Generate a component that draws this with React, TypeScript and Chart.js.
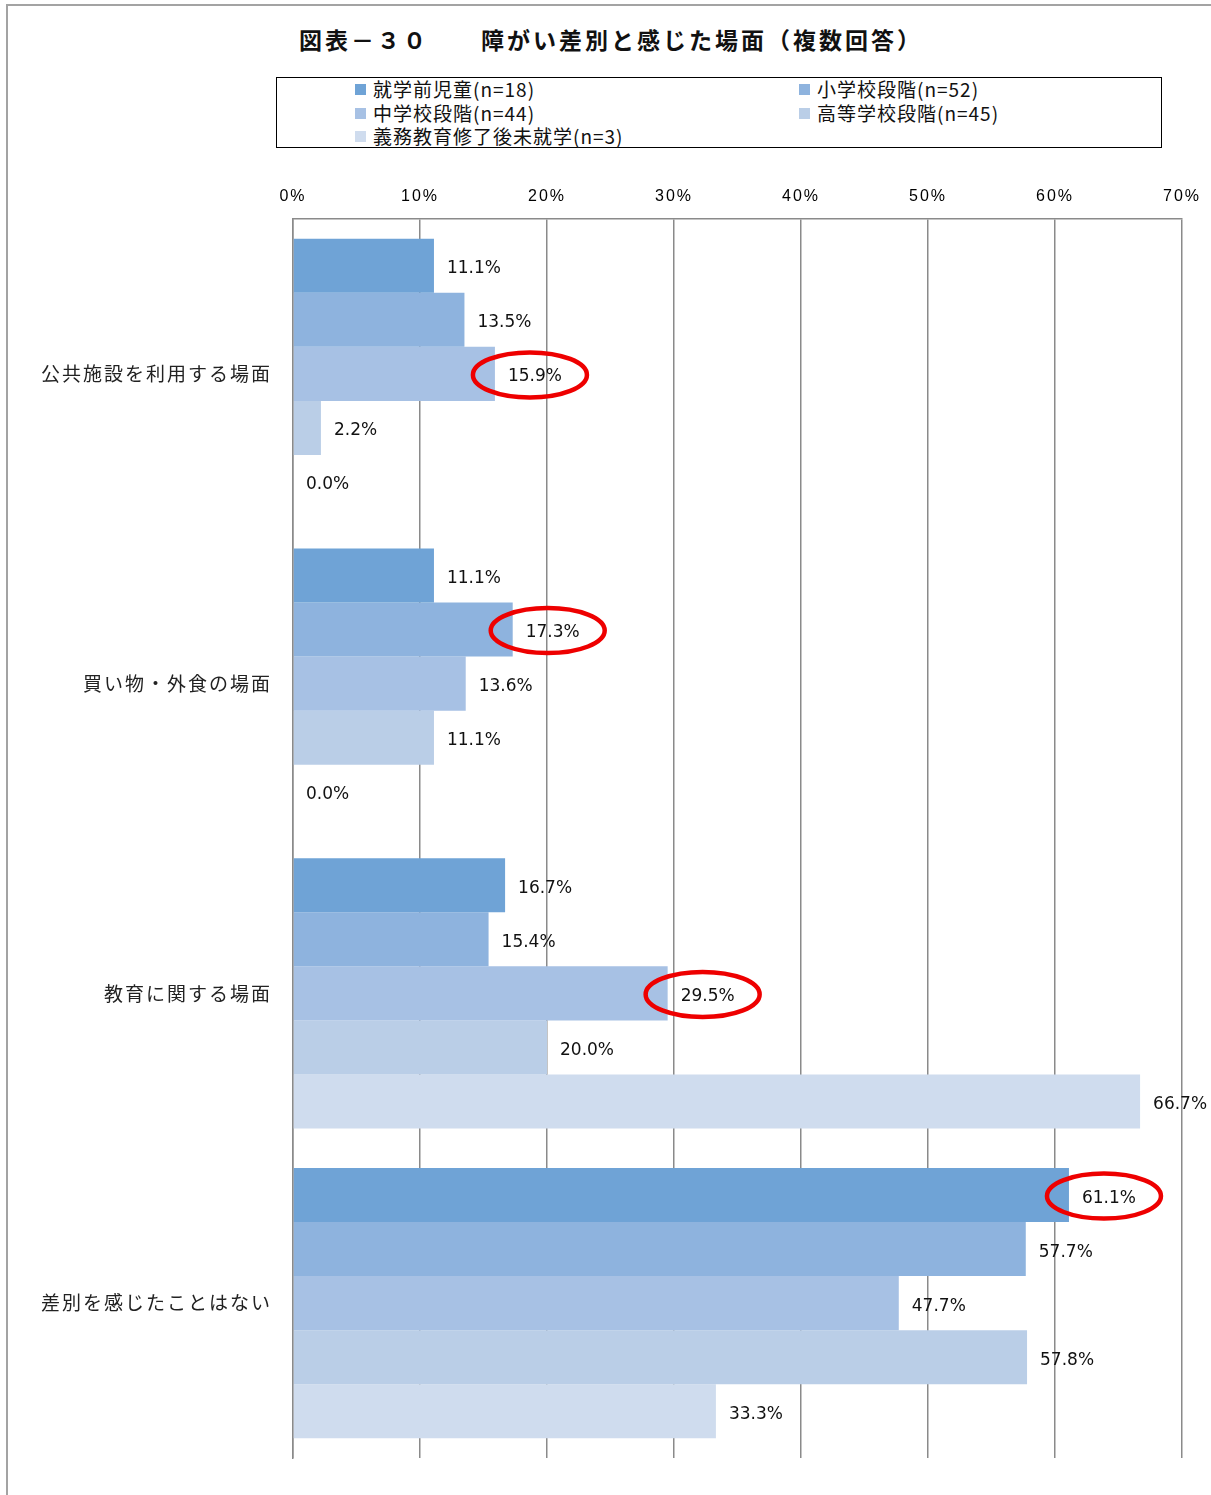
import React, { useEffect, useRef } from "react";
import { Chart, registerables } from "chart.js";

Chart.register(...registerables);

const title = "図表－３０　　障がい差別と感じた場面（複数回答）";
const categories = ["公共施設を利用する場面", "買い物・外食の場面", "教育に関する場面", "差別を感じたことはない"];
const seriesNames = ["就学前児童(n=18)", "小学校段階(n=52)", "中学校段階(n=44)", "高等学校段階(n=45)", "義務教育修了後未就学(n=3)"];
const preschool = [11.1, 11.1, 16.7, 61.1];
const elementary = [13.5, 17.3, 15.4, 57.7];
const juniorHigh = [15.9, 13.6, 29.5, 47.7];
const highSchool = [2.2, 11.1, 20.0, 57.8];
const postCompulsory = [0.0, 0.0, 66.7, 33.3];
const seriesValues = [preschool, elementary, juniorHigh, highSchool, postCompulsory];
const seriesColors = ["#6FA3D6", "#8EB3DE", "#A7C1E4", "#BACEE7", "#CFDCEE"];
const xTicks = [0, 10, 20, 30, 40, 50, 60, 70];
// circled labels: [series index, category index]
const highlights = [
  [2, 0],
  [1, 1],
  [2, 2],
  [0, 3],
];

const LABEL_FONT = '17px "DejaVu Sans"';
const LABEL_OFFSET = 13;

const spacingPlugin = {
  id: "spacing",
  beforeDraw(chart: any) {
    chart.ctx.letterSpacing = "2px";
  },
  beforeDatasetsDraw(chart: any) {
    chart.ctx.letterSpacing = "0px";
  },
};

const valueLabelPlugin = {
  id: "valueLabels",
  afterDatasetsDraw(chart: any) {
    const ctx = chart.ctx;
    ctx.save();
    ctx.letterSpacing = "0px";
    ctx.font = LABEL_FONT;
    ctx.fillStyle = "#111";
    ctx.textAlign = "left";
    ctx.textBaseline = "middle";
    chart.data.datasets.forEach((ds: any, di: number) => {
      const meta = chart.getDatasetMeta(di);
      meta.data.forEach((bar: any, i: number) => {
        const v = ds.data[i];
        ctx.fillText(v.toFixed(1) + "%", bar.x + LABEL_OFFSET, bar.y + 3);
      });
    });
    // red ellipses
    ctx.strokeStyle = "#EE0000";
    ctx.lineWidth = 4.5;
    highlights.forEach(([di, ci]) => {
      const bar: any = chart.getDatasetMeta(di).data[ci];
      const v = chart.data.datasets[di].data[ci];
      const text = v.toFixed(1) + "%";
      const w = ctx.measureText(text).width;
      const cx = bar.x + LABEL_OFFSET + w / 2 - 5;
      const cy = bar.y + 1;
      ctx.beginPath();
      ctx.ellipse(cx, cy, 57, 22.5, 0, 0, Math.PI * 2);
      ctx.stroke();
    });
    ctx.restore();
  },
};

export default function App() {
  const canvasRef = useRef<HTMLCanvasElement | null>(null);

  useEffect(() => {
    const canvas = canvasRef.current;
    if (!canvas) return;
    const chart = new Chart(canvas, {
      type: "bar",
      data: {
        labels: categories,
        datasets: seriesNames.map((name, i) => ({
          label: name,
          data: seriesValues[i],
          backgroundColor: seriesColors[i],
          borderWidth: 0,
          categoryPercentage: 0.872,
          barPercentage: 1.0,
        })),
      },
      options: {
        indexAxis: "y",
        responsive: false,
        animation: false,
        devicePixelRatio: 1,
        layout: { padding: { left: 0, right: 28, top: 0, bottom: 38 } },
        plugins: {
          legend: { display: false },
          tooltip: { enabled: false },
          title: { display: false },
        },
        scales: {
          x: {
            position: "top",
            min: 0,
            max: 70,
            afterBuildTicks: (s: any) => {
              s.ticks = xTicks.map((v) => ({ value: v }));
            },
            afterFit: (s: any) => {
              s.height = 58;
            },
            ticks: {
              callback: (v: any) => v + "%",
              font: { family: "Liberation Sans", size: 16 },
              color: "#000",
              padding: 13,
            },
            grid: { color: "#8a8a8a", lineWidth: 1.5, drawTicks: false },
            border: { display: true, color: "#8a8a8a", width: 1.5 },
          },
          y: {
            afterFit: (s: any) => {
              s.width = 293;
            },
            ticks: {
              font: { family: "Noto Sans CJK JP", size: 19 },
              color: "#222",
              padding: 21,
            },
            grid: { display: false, drawTicks: false },
            border: { display: true, color: "#8a8a8a", width: 1.5 },
          },
        },
      },
      plugins: [spacingPlugin, valueLabelPlugin],
    } as any);
    return () => chart.destroy();
  }, []);

  const legendCols = [79, 523];
  const legendRows = [11, 35, 58];

  return (
    <div style={{ position: "absolute", left: 0, top: 0, width: 1211, height: 1495, background: "#fff", overflow: "hidden" }}>
      <div
        style={{
          position: "absolute",
          left: 6,
          top: 4,
          width: 1210,
          height: 1500,
          borderLeft: "2px solid #a3a3a3",
          borderTop: "2px solid #a3a3a3",
        }}
      />
      <div
        style={{
          position: "absolute",
          left: 299,
          top: 27,
          fontFamily: '"Noto Sans CJK JP"',
          fontWeight: "bold",
          fontSize: 23,
          lineHeight: "25px",
          letterSpacing: "3px",
          color: "#111",
          whiteSpace: "nowrap",
        }}
      >
        {title}
      </div>
      <div
        style={{
          position: "absolute",
          left: 276,
          top: 77,
          width: 884,
          height: 69,
          border: "1.5px solid #000",
        }}
      >
        {seriesNames.map((name, i) => {
          const col = legendCols[i % 2];
          const row = legendRows[Math.floor(i / 2)];
          return (
            <div
              key={name}
              style={{
                position: "absolute",
                left: col - 1,
                top: row - 12,
                height: 24,
                display: "flex",
                alignItems: "center",
                whiteSpace: "nowrap",
              }}
            >
              <span style={{ display: "inline-block", width: 11, height: 11, background: seriesColors[i], marginRight: 7 }} />
              <span
                style={{
                  fontFamily: '"Noto Sans CJK JP"',
                  fontSize: 19,
                  lineHeight: "24px",
                  letterSpacing: "1px",
                  color: "#111",
                }}
              >
                {name}
              </span>
            </div>
          );
        })}
      </div>
      <canvas
        ref={canvasRef}
        width={1211}
        height={1335}
        style={{ position: "absolute", left: 0, top: 161, width: 1211, height: 1335 }}
      />
    </div>
  );
}
